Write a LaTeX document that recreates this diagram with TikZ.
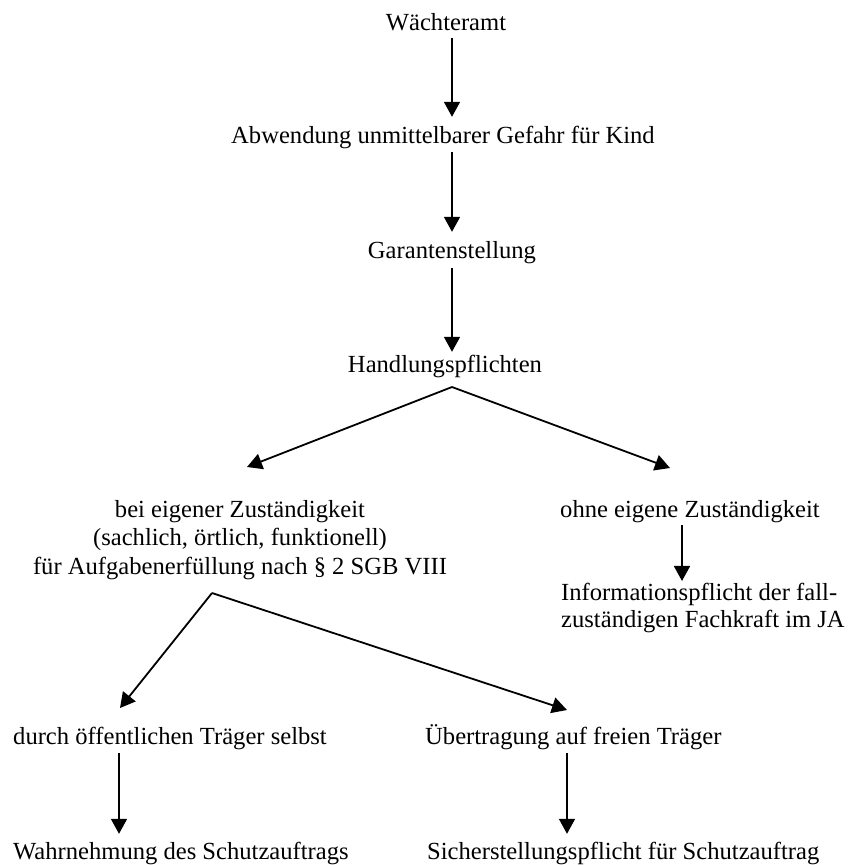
\documentclass[tikz,border=0pt]{standalone}
\usepackage{fontspec}
\setmainfont{Liberation Serif}
\usetikzlibrary{arrows.meta}
\begin{document}
\begin{tikzpicture}[x=1pt,y=-1pt,
  lbl/.style={inner sep=0pt, font=\fontsize{24.6}{28}\selectfont, text height=17pt, text depth=5pt},
  blk/.style={inner sep=0pt, font=\fontsize{24.6}{28.5}\selectfont},
  arr/.style={line width=1.8pt, -{Triangle[width=16pt,length=15pt]}}]
\useasboundingbox (0,0) rectangle (848,865);
% nodes
\node[lbl] (w) at (446,24) {Wächteramt};
\node[lbl] (a) at (443,137) {Abwendung unmittelbarer Gefahr für Kind};
\node[lbl] (g) at (452,252) {Garantenstellung};
\node[lbl] (h) at (445,366) {Handlungspflichten};
\node[blk, align=center] (l) at (240,540) {bei eigener Zuständigkeit\\(sachlich, örtlich, funktionell)\\für Aufgabenerfüllung nach § 2 SGB VIII};
\node[lbl, anchor=west] (r) at (560,511) {ohne eigene Zuständigkeit};
\node[blk, align=left, anchor=west, font=\fontsize{24.6}{27}\selectfont] (i) at (561,608) {Informationspflicht der fall-\\zuständigen Fachkraft im JA};
\node[lbl, anchor=west] (d) at (13,738) {durch öffentlichen Träger selbst};
\node[lbl, anchor=west] (u) at (425,738) {Übertragung auf freien Träger};
\node[lbl, anchor=west] (wa) at (13,853) {Wahrnehmung des Schutzauftrags};
\node[lbl, anchor=west] (s) at (427,853) {Sicherstellungspflicht für Schutzauftrag};
% helper coordinates
\coordinate (c) at (452,0);
\coordinate (hp) at (452,387);
\coordinate (lt) at (247,467);
\coordinate (rt) at (670,468);
\coordinate (cr) at (682,0);
\coordinate (lp) at (212,593);
\coordinate (dt) at (120,708);
\coordinate (ut) at (567,710);
\coordinate (cd) at (119,0);
\coordinate (cu) at (567,0);
% connectors
\draw[arr] ([yshift=-3pt]w.south -| c) -- ([yshift=9pt]a.north -| c);
\draw[arr] ([yshift=-4pt]a.south -| c) -- ([yshift=9pt]g.north -| c);
\draw[arr] ([yshift=-5pt]g.south -| c) -- ([yshift=3pt]h.north -| c);
\draw[arr] (hp) -- (lt);
\draw[arr] (hp) -- (rt);
\draw[arr] ([yshift=-3pt]r.south -| cr) -- ([yshift=2pt]i.north -| cr);
\draw[arr] (lp) -- (dt);
\draw[arr] (lp) -- (ut);
\draw[arr] ([yshift=-4pt]d.south -| cd) -- ([yshift=8pt]wa.north -| cd);
\draw[arr] ([yshift=-4pt]u.south -| cu) -- ([yshift=8pt]s.north -| cu);
\end{tikzpicture}
\end{document}
